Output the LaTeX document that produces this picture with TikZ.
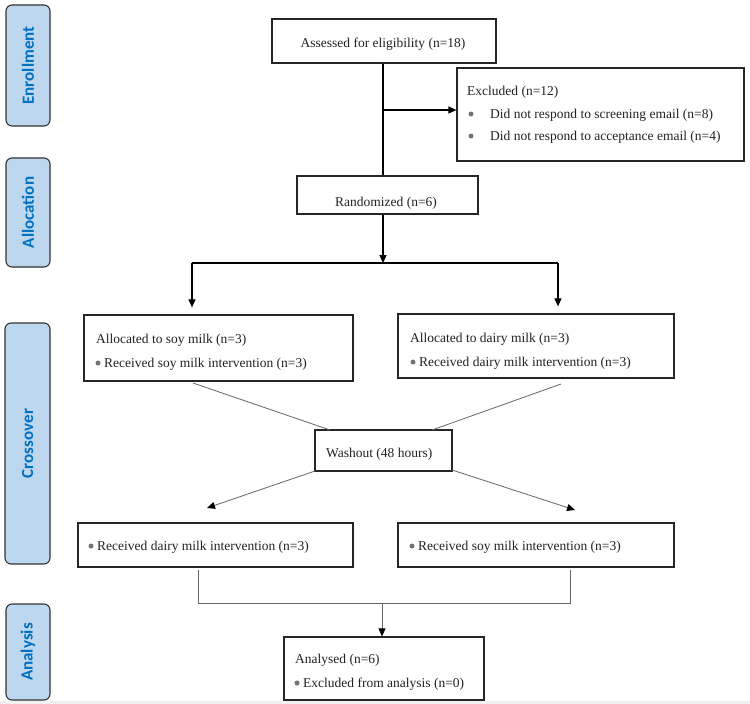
\documentclass[tikz,border=0pt]{standalone}
\usepackage{fontspec}
\setmainfont{Liberation Serif}
\newfontfamily\labelfont{Carlito}
\usetikzlibrary{arrows.meta}
\definecolor{lblue}{HTML}{BDD7EE}
\definecolor{dblue}{HTML}{0070C0}
\definecolor{txt}{HTML}{222222}
\tikzset{
  box/.style={draw=black!85, line width=1.2pt, fill=white, inner sep=0pt},
  side/.style={draw=black!80, line width=1.1pt, fill=lblue, rounded corners=6pt, inner sep=0pt,
    rotate=90, font=\labelfont\bfseries\fontsize{17}{20}\selectfont, text=dblue},
  tx/.style={anchor=base west, inner sep=0pt, text=txt, font=\fontsize{13.5}{16}\selectfont},
  txc/.style={anchor=base, inner sep=0pt, text=txt, font=\fontsize{13.5}{16}\selectfont},
  main/.style={draw=black, line width=1.2pt},
  thin/.style={draw=black!60, line width=0.8pt},
  tip/.style={-{Triangle[length=8pt,width=7pt,color=black]}},
  dot/.style={circle, fill=black!55, inner sep=0pt, minimum size=5pt}
}
\begin{document}
\begin{tikzpicture}[x=1pt,y=-1pt]
\useasboundingbox (0,0) rectangle (750,704);
\fill[white] (0,0) rectangle (750,704);
\fill[black!6] (0,701) rectangle (750,704);

% side labels
\node[side, minimum width=121pt, minimum height=44pt] (senr) at (28,65.5) {Enrollment};
\node[side, minimum width=109pt, minimum height=44pt] (salloc) at (28,212.5) {Allocation};
\node[side, minimum width=241pt, minimum height=45pt] (scross) at (27.5,443.5) {Crossover};
\node[side, minimum width=96pt, minimum height=44pt] (sanal) at (28,652) {Analysis};

% boxes
\node[box, minimum width=224pt, minimum height=44pt] (assess) at (384,41) {};
\node[box, minimum width=287pt, minimum height=93pt] (excl) at (600.5,114.5) {};
\node[box, minimum width=181pt, minimum height=38pt] (rand) at (387.5,195) {};
\node[box, minimum width=269pt, minimum height=66pt] (soy) at (218.5,348) {};
\node[box, minimum width=276pt, minimum height=64pt] (dairy) at (536,346) {};
\node[box, minimum width=137pt, minimum height=41pt] (wash) at (383.5,450.5) {};
\node[box, minimum width=275pt, minimum height=44pt] (rdairy) at (215.5,545) {};
\node[box, minimum width=276pt, minimum height=44pt] (rsoy) at (536,545) {};
\node[box, minimum width=200pt, minimum height=63pt] (anal) at (384,668.5) {};

% texts
\node[txc] (t1) at (383,47) {Assessed for eligibility (n=18)};
\node[tx] (t2) at (467,95) {Excluded (n=12)};
\node[dot] (b2a) at (471,114) {};
\node[tx] (t2a) at (490,118.5) {Did not respond to screening email (n=8)};
\node[dot] (b2b) at (471,136) {};
\node[tx] (t2b) at (490,140.5) {Did not respond to acceptance email (n=4)};
\node[txc] (t3) at (386,206) {Randomized (n=6)};
\node[tx] (t4) at (96,343) {Allocated to soy milk (n=3)};
\node[dot] (b4) at (98,363) {};
\node[tx] (t4a) at (104,367) {Received soy milk intervention (n=3)};
\node[tx] (t5) at (410,342) {Allocated to dairy milk (n=3)};
\node[dot] (b5) at (413,362) {};
\node[tx] (t5a) at (419,366) {Received dairy milk intervention (n=3)};
\node[tx] (t6) at (326,457) {Washout (48 hours)};
\node[dot] (b7) at (91,546) {};
\node[tx] (t7) at (97,550) {Received dairy milk intervention (n=3)};
\node[dot] (b8) at (412,546) {};
\node[tx] (t8) at (418,550) {Received soy milk intervention (n=3)};
\node[tx] (t9) at (295,663) {Analysed (n=6)};
\node[dot] (b9) at (297,683) {};
\node[tx] (t9a) at (303,687) {Excluded from analysis (n=0)};

% coordinates for junctions
\coordinate (jx) at (383,110);
\coordinate (jr) at (383,263);
\coordinate (jl) at (192,263);
\coordinate (jrr) at (558,263);
\coordinate (sa) at (193,383);
\coordinate (da) at (561,384);
\coordinate (wa) at (330,430);
\coordinate (wb) at (432,430);
\coordinate (wc) at (315,471);
\coordinate (wd) at (452,470);
\coordinate (ea) at (207,508);
\coordinate (eb) at (575,510);
\coordinate (la) at (198,570);
\coordinate (lb) at (198,603);
\coordinate (ra) at (570,570);
\coordinate (rb) at (570,603);
\coordinate (ca) at (382,603);

% connectors
\draw[main] (assess.south -| jx) -- (rand.north -| jx);
\draw[main, tip] (jx) -- (excl.west |- jx);
\draw[main, tip] (rand.south -| jr) -- (jr);
\draw[main] (jl) -- (jrr);
\draw[main, tip, shorten >=7pt] (jl) -- (soy.north -| jl);
\draw[main, tip, shorten >=7pt] (jrr) -- (dairy.north -| jrr);
\draw[thin] (sa) -- (wa);
\draw[thin] (da) -- (wb);
\draw[thin, tip] (wc) -- (ea);
\draw[thin, tip] (wd) -- (eb);
\draw[thin] (la) -- (lb) -- (rb) -- (ra);
\draw[thin, tip] (ca) -- (anal.north -| ca);
\end{tikzpicture}
\end{document}
